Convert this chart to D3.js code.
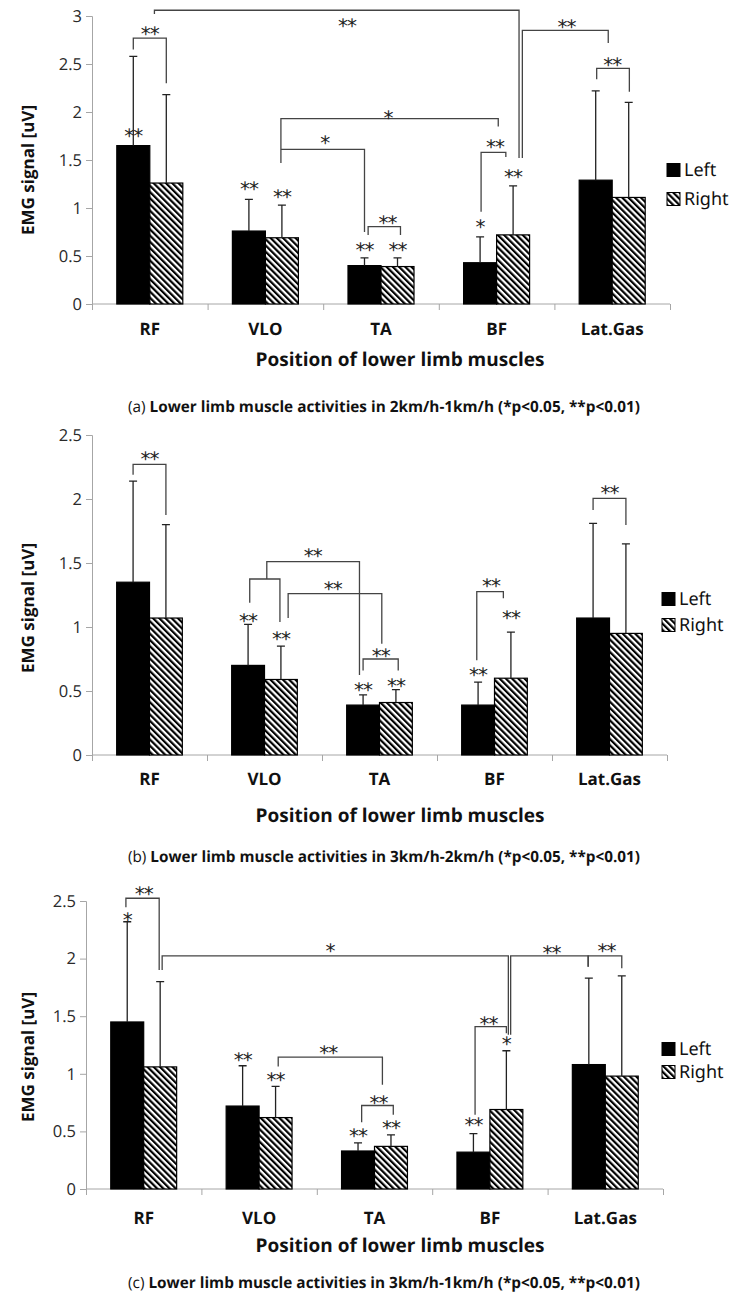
<!DOCTYPE html>
<html><head><meta charset="utf-8">
<script src="https://cdn.jsdelivr.net/npm/d3@7"></script>
<style>body{margin:0;background:#fff}svg{display:block}text{text-rendering:geometricPrecision}</style>
</head><body>
<svg id="chart" width="736" height="1297"></svg>
<script>
// ---------- DATA ----------
const categories = ["RF", "VLO", "TA", "BF", "Lat.Gas"];
const seriesNames = ["Left", "Right"];

// (a) 2km/h-1km/h
const leftMeanA = [1.65, 0.76, 0.40, 0.43, 1.29];
const leftSdA   = [0.93, 0.33, 0.08, 0.27, 0.93];
const rightMeanA = [1.26, 0.69, 0.39, 0.72, 1.11];
const rightSdA   = [0.92, 0.34, 0.09, 0.51, 0.99];
const yTicksA = [0, 0.5, 1, 1.5, 2, 2.5, 3];

// (b) 3km/h-2km/h
const leftMeanB = [1.35, 0.70, 0.39, 0.39, 1.07];
const leftSdB   = [0.79, 0.32, 0.08, 0.18, 0.74];
const rightMeanB = [1.07, 0.59, 0.41, 0.60, 0.95];
const rightSdB   = [0.73, 0.26, 0.10, 0.36, 0.70];
const yTicksB = [0, 0.5, 1, 1.5, 2, 2.5];

// (c) 3km/h-1km/h
const leftMeanC = [1.45, 0.72, 0.33, 0.32, 1.08];
const leftSdC   = [0.87, 0.35, 0.07, 0.16, 0.75];
const rightMeanC = [1.06, 0.62, 0.37, 0.69, 0.98];
const rightSdC   = [0.74, 0.27, 0.10, 0.51, 0.87];
const yTicksC = [0, 0.5, 1, 1.5, 2, 2.5];

// significance brackets: points [category, series position, value]
const bracketsA = [
  [["RF",0,2.65],["RF",0,2.77],["RF",1,2.77],["RF",1,2.30]],
  [["RF",0.64,3.02],["RF",0.64,3.06],["BF",1.18,3.06],["BF",1.18,1.52]],
  [["BF",1.28,1.52],["BF",1.28,2.85],["Lat.Gas",0.38,2.85],["Lat.Gas",0.38,2.72]],
  [["Lat.Gas",0.03,2.34],["Lat.Gas",0.03,2.455],["Lat.Gas",1.02,2.455],["Lat.Gas",1.02,2.21]],
  [["VLO",0.97,1.47],["VLO",0.97,1.93],["BF",0.55,1.93],["BF",0.55,1.85]],
  [["VLO",0.97,1.61],["TA",0,1.61],["TA",0,0.75]],
  [["BF",0.03,0.96],["BF",0.03,1.58],["BF",0.78,1.58],["BF",0.78,1.53]],
  [["TA",0.11,0.72],["TA",0.11,0.805],["TA",1.09,0.805],["TA",1.09,0.72]]
];
const marksA = [
  ["**","RF",0.5,2.86],["**","RF",0,1.795],["**","TA",-0.53,2.94],["**","BF",2.62,2.93],
  ["**","Lat.Gas",0.5,2.54],["*","TA",0.71,1.99],["*","VLO",2.3,1.72],["**","BF",0.45,1.68],
  ["**","TA",0.7,0.89],["**","VLO",0,1.25],["**","VLO",1,1.16],["**","TA",0,0.615],
  ["**","TA",1,0.607],["*","BF",0,0.85],["**","BF",1,1.37]
];
const bracketsB = [
  [["RF",0,2.19],["RF",0,2.27],["RF",1,2.27],["RF",1,1.875]],
  [["VLO",0.05,1.19],["VLO",0.05,1.375],["VLO",0.97,1.375],["VLO",0.97,1.04]],
  [["VLO",0.57,1.375],["VLO",0.57,1.51],["TA",-0.11,1.51],["TA",-0.11,0.625]],
  [["VLO",1.22,1.07],["VLO",1.22,1.26],["TA",0.57,1.26],["TA",0.57,0.87]],
  [["TA",0,0.66],["TA",0,0.75],["TA",1.07,0.75],["TA",1.07,0.66]],
  [["BF",-0.04,0.74],["BF",-0.04,1.276],["BF",0.77,1.276],["BF",0.77,1.224]],
  [["Lat.Gas",0,1.914],["Lat.Gas",0,2.005],["Lat.Gas",1,2.005],["Lat.Gas",1,1.797]]
];
const marksB = [
  ["**","RF",0.5,2.35],["**","VLO",1.97,1.59],["**","VLO",2.58,1.33],["**","TA",0.54,0.81],
  ["**","VLO",0,1.08],["**","VLO",1,0.94],["**","TA",0,0.547],["**","TA",1,0.573],
  ["**","BF",0,0.66],["**","BF",1,1.107],["**","BF",0.39,1.354],["**","Lat.Gas",0.5,2.08]
];
const bracketsC = [
  [["RF",-0.04,2.446],["RF",-0.04,2.524],["RF",0.97,2.524],["RF",0.97,1.90]],
  [["RF",1.06,1.90],["RF",1.06,2.023],["BF",1.06,2.023],["BF",1.06,1.338]],
  [["BF",1.13,1.338],["BF",1.13,2.023],["Lat.Gas",-0.02,2.023],["Lat.Gas",-0.02,1.93]],
  [["Lat.Gas",-0.02,1.93],["Lat.Gas",-0.02,2.023],["Lat.Gas",1,2.023],["Lat.Gas",1,1.917]],
  [["VLO",1.08,1.063],["VLO",1.08,1.145],["TA",0.74,1.145],["TA",0.74,0.905]],
  [["TA",0.11,0.58],["TA",0.11,0.725],["TA",1.07,0.725],["TA",1.07,0.644]],
  [["BF",0.05,0.644],["BF",0.05,1.41],["BF",1.0,1.41],["BF",1.0,1.353]]
];
const marksC = [
  ["**","RF",0.5,2.60],["*","RF",0,2.379],["*","VLO",2.65,2.11],["**","BF",2.37,2.09],
  ["**","Lat.Gas",0.54,2.104],["**","VLO",2.6,1.223],["**","TA",0.62,0.79],["**","VLO",0,1.156],
  ["**","VLO",1,0.983],["**","TA",0,0.50],["**","TA",1,0.572],["**","BF",0,0.595],
  ["*","BF",1,1.295],["**","BF",0.46,1.468]
];

const yAxisTitle = "EMG signal [uV]";
const xAxisTitle = "Position of lower limb muscles";
const captionPrefixes = ["(a)", "(b)", "(c)"];
const captionTexts = [
  "Lower limb muscle activities in 2km/h-1km/h (*p<0.05, **p<0.01)",
  "Lower limb muscle activities in 3km/h-2km/h (*p<0.05, **p<0.01)",
  "Lower limb muscle activities in 3km/h-1km/h (*p<0.05, **p<0.01)"
];

// ---------- LAYOUT ----------
const panels = [
  {left:[leftMeanA,leftSdA], right:[rightMeanA,rightSdA], ticks:yTicksA, br:bracketsA, mk:marksA,
   x0:92, x1:670, yTop:16, y0:304, catY:328, titleY:359, capY:406, yLabY:170, legX:667, legY:[170,199]},
  {left:[leftMeanB,leftSdB], right:[rightMeanB,rightSdB], ticks:yTicksB, br:bracketsB, mk:marksB,
   x0:92, x1:667, yTop:435, y0:755, catY:778, titleY:815, capY:856, yLabY:608, legX:662, legY:[599,625]},
  {left:[leftMeanC,leftSdC], right:[rightMeanC,rightSdC], ticks:yTicksC, br:bracketsC, mk:marksC,
   x0:86, x1:663, yTop:901, y0:1189, catY:1217, titleY:1245, capY:1282, yLabY:1057, legX:662, legY:[1049,1072]}
];

const svg = d3.select("#chart");
const defs = svg.append("defs");
const pat = defs.append("pattern").attr("id","hatch").attr("patternUnits","userSpaceOnUse")
  .attr("width",4.4).attr("height",4.4).attr("patternTransform","rotate(-45)");
pat.append("rect").attr("width",4.4).attr("height",4.4).attr("fill","#fff");
pat.append("line").attr("x1",1.1).attr("x2",1.1).attr("y1",-1).attr("y2",6).attr("stroke","#000").attr("stroke-width",2.2);

const axisColor = "#a6a6a6";

panels.forEach((p, pi) => {
  const g = svg.append("g");
  const yMax = p.ticks[p.ticks.length-1];
  const y = d3.scaleLinear().domain([0, yMax]).range([p.y0, p.yTop]);
  const x = d3.scaleBand().domain(categories).range([p.x0, p.x1]).padding(0);
  const bw = x.bandwidth();
  const xs = d3.scaleBand().domain(seriesNames).range([bw*0.2145, bw*0.7855]).padding(0);
  const sb = xs.bandwidth();
  const xPos = (cat, s) => x(cat) + xs(seriesNames[0]) + sb/2 + s*sb;

  // y axis
  const yAxis = g.append("g").attr("transform",`translate(${p.x0},0)`)
    .call(d3.axisLeft(y).tickValues(p.ticks).tickSize(6).tickPadding(4).tickFormat(d3.format("")));
  yAxis.select(".domain").attr("stroke",axisColor);
  yAxis.selectAll(".tick line").attr("stroke",axisColor);
  yAxis.selectAll(".tick text").attr("font-family","'Open Sans', sans-serif").attr("font-size",16.5).attr("fill","#2a2a2a");

  // x axis with category boundary ticks
  const xb = d3.scaleLinear().domain([0, categories.length]).range([p.x0, p.x1]);
  const xAxis = g.append("g").attr("transform",`translate(0,${p.y0})`)
    .call(d3.axisBottom(xb).tickValues(d3.range(categories.length+1)).tickSize(6).tickFormat(""));
  xAxis.select(".domain").attr("stroke",axisColor).attr("d",`M${p.x0},0H${p.x1}`);
  xAxis.selectAll(".tick line").attr("stroke",axisColor);

  // category labels
  g.selectAll(".cat").data(categories).join("text")
    .attr("x", d => x(d) + bw/2).attr("y", p.catY).attr("dominant-baseline","central")
    .attr("text-anchor","middle").attr("font-family","'Open Sans', sans-serif").attr("font-weight","bold")
    .attr("font-size",17).attr("fill","#111").text(d => d);

  // bars
  const rows = [];
  categories.forEach((c, i) => {
    rows.push({cat:c, s:0, v:p.left[0][i], sd:p.left[1][i]});
    rows.push({cat:c, s:1, v:p.right[0][i], sd:p.right[1][i]});
  });
  g.selectAll(".bar").data(rows).join("rect")
    .attr("x", d => x(d.cat) + xs(seriesNames[d.s]))
    .attr("y", d => y(d.v)).attr("width", sb).attr("height", d => y(0) - y(d.v))
    .attr("fill", d => d.s === 0 ? "#000" : "url(#hatch)")
    .attr("stroke","#000").attr("stroke-width",1.2);

  // error bars (upper)
  g.selectAll(".err").data(rows).join("path")
    .attr("d", d => {
      const cx = xPos(d.cat, d.s), t = y(d.v + d.sd);
      return `M${cx},${y(d.v)}V${t}M${cx-4},${t}H${cx+4}`;
    })
    .attr("stroke","#222").attr("stroke-width",1.3).attr("fill","none");

  // brackets
  const line = d3.line().x(d => xPos(d[0], d[1])).y(d => y(d[2]));
  g.selectAll(".br").data(p.br).join("path")
    .attr("d", line).attr("fill","none").attr("stroke","#444").attr("stroke-width",1.3);

  // significance marks
  g.selectAll(".mk").data(p.mk).join("text")
    .attr("x", d => xPos(d[1], d[2])).attr("y", d => y(d[3])).attr("dy","0.58em")
    .attr("text-anchor","middle").attr("font-family","'DejaVu Sans', sans-serif")
    .attr("font-size",20).attr("letter-spacing",-1).attr("fill","#222").text(d => d[0]);

  // y axis title
  g.append("text").attr("transform",`translate(27,${p.yLabY}) rotate(-90)`)
    .attr("text-anchor","middle").attr("dominant-baseline","central")
    .attr("font-family","'Open Sans', sans-serif").attr("font-weight","bold").attr("font-size",17)
    .attr("fill","#111").text(yAxisTitle);

  // x axis title
  g.append("text").attr("x",400).attr("y",p.titleY).attr("text-anchor","middle").attr("dominant-baseline","central")
    .attr("font-family","'Open Sans', sans-serif").attr("font-weight","bold").attr("font-size",19)
    .attr("fill","#111").text(xAxisTitle);

  // caption
  const cap = g.append("text").attr("x",384).attr("y",p.capY).attr("text-anchor","middle")
    .attr("dominant-baseline","central").attr("font-family","'Open Sans', sans-serif").attr("font-size",15.5)
    .attr("fill","#111").attr("textLength",512).attr("lengthAdjust","spacingAndGlyphs");
  cap.append("tspan").attr("font-weight","normal").text(captionPrefixes[pi] + " ");
  cap.append("tspan").attr("font-weight","bold").text(captionTexts[pi]);

  // legend
  seriesNames.forEach((s, si) => {
    const cy = p.legY[si];
    g.append("rect").attr("x",p.legX).attr("y",cy-6.5).attr("width",13).attr("height",13)
      .attr("fill", si === 0 ? "#000" : "url(#hatch)").attr("stroke","#000").attr("stroke-width",1);
    g.append("text").attr("x",p.legX+17).attr("y",cy).attr("dominant-baseline","central")
      .attr("font-family","'Noto Sans', sans-serif").attr("font-size",18).attr("fill","#111").text(s);
  });
});
</script>
</body></html>
